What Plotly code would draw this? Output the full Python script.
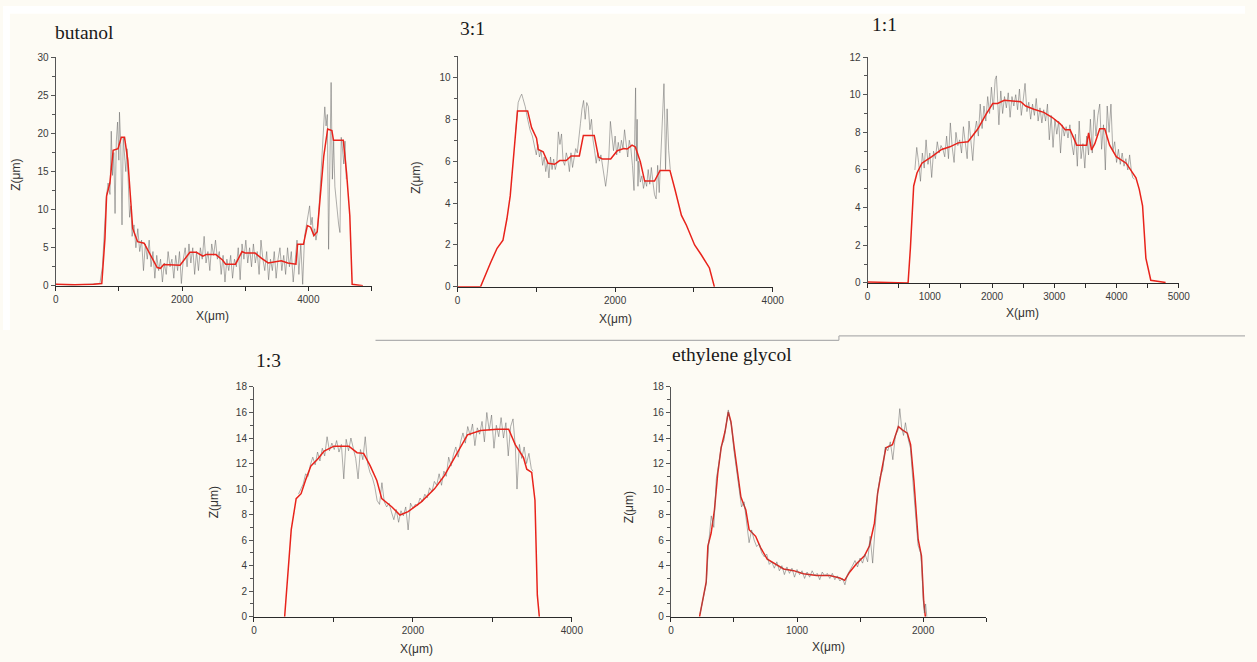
import plotly.graph_objects as go

W, H = 1257, 662

# ---------------- data ----------------
# butanol
but_red_x = [0, 300, 600, 730, 780, 806, 858, 910, 987, 1039, 1090, 1142, 1220, 1297, 1400, 1607, 1660, 1710,
             1969, 2047, 2124, 2227, 2330, 2382, 2537, 2640, 2692, 2847, 2950, 3002, 3157, 3260, 3364, 3571,
             3674, 3803, 3829, 3922, 3984, 4036, 4088, 4140, 4191, 4243, 4305, 4372, 4398, 4553, 4605, 4656,
             4693, 4780, 4863]
but_red_z = [0.2, 0.15, 0.2, 0.3, 6.2, 11.8, 13.5, 17.8, 18.0, 19.5, 19.5, 16.5, 7.5, 5.8, 5.6, 2.4, 2.3, 2.8,
             2.7, 3.6, 4.4, 4.4, 3.9, 4.1, 4.1, 3.4, 2.85, 2.85, 4.5, 4.3, 4.3, 3.6, 3.0, 3.3,
             3.0, 2.85, 5.45, 5.45, 7.9, 7.7, 6.6, 7.1, 12.2, 17.0, 20.6, 20.4, 19.1, 19.1, 14.8, 9.2,
             0.2, 0.1, 0.0]
but_gray_x = [0, 250, 500, 700, 740, 770, 800, 830, 860, 880,
              900, 920, 940, 960, 980, 1000, 1010, 1030, 1050, 1070,
              1090, 1110, 1130, 1150, 1170, 1190, 1210, 1240, 1270, 1300,
              1330, 1360, 1390, 1420, 1450, 1480, 1510, 1540, 1570, 1600,
              1630, 1660, 1690, 1720, 1750, 1780, 1810, 1840, 1870, 1900,
              1930, 1960, 1990, 2020, 2050, 2080, 2110, 2140, 2170, 2200,
              2230, 2260, 2290, 2320, 2350, 2380, 2410, 2440, 2470, 2500,
              2530, 2560, 2590, 2620, 2650, 2680, 2710, 2740, 2770, 2800,
              2830, 2860, 2890, 2920, 2950, 2980, 3010, 3040, 3070, 3100,
              3130, 3160, 3190, 3220, 3250, 3280, 3310, 3340, 3370, 3400,
              3430, 3460, 3490, 3520, 3550, 3580, 3610, 3640, 3670, 3700,
              3730, 3760, 3790, 3820, 3850, 3880, 3910, 3940, 3970, 4000,
              4020, 4040, 4060, 4080, 4100, 4120, 4140, 4160, 4180, 4200,
              4220, 4240, 4260, 4280, 4300, 4320, 4340, 4360, 4380, 4400,
              4420, 4440, 4460, 4480, 4500, 4520, 4540, 4560, 4580, 4600]
but_gray_z = [0.2, 0.1, 0.2, 0.3, 2.5, 7.0, 11.5, 13.5, 12.0, 20.3,
              14.5, 17.5, 9.5, 19.0, 21.5, 16.5, 22.8, 18.5, 8.0, 19.5,
              17.0, 15.0, 18.0, 12.5, 9.0, 10.5, 6.5, 8.0, 5.0, 7.5,
              4.5, 6.0, 2.0, 5.5, 3.5, 6.0, 2.5, 4.5, 1.0, 4.0,
              2.0, 3.5, 0.5, 3.0, 1.5, 4.5, 2.5, 3.5, 1.0, 4.0,
              2.0, 4.5, 0.3, 3.5, 5.0, 2.5, 5.5, 3.0, 5.0, 1.5,
              4.5, 2.0, 5.0, 3.5, 6.5, 3.0, 4.5, 2.0, 5.5, 4.0,
              6.0, 3.5, 4.5, 1.5, 4.0, 0.5, 3.5, 2.0, 4.0, 1.0,
              3.5, 2.5, 5.0, 0.8, 5.5, 3.5, 6.0, 3.0, 5.0, 2.5,
              5.5, 3.0, 4.5, 1.5, 6.0, 3.5, 2.0, 4.5, 0.8, 3.5,
              2.0, 4.5, 1.0, 3.5, 5.0, 2.0, 4.0, 1.5, 5.0, 2.5,
              4.5, 0.5, 3.5, 6.0, 1.5, 5.5, 0.2, 6.5, 8.0, 9.5,
              10.5, 8.0, 9.0, 6.5, 7.5, 6.0, 7.0, 9.0, 12.0, 15.0,
              18.0, 20.5, 23.5, 21.0, 22.5, 4.8, 20.0, 26.7, 14.0, 19.0,
              13.0, 11.0, 9.5, 8.0, 7.0, 19.5, 18.0, 16.0, 19.0, 14.0]

# 3:1
r31_red_x = [0, 150, 292, 418, 502, 577, 627, 669, 711, 761, 890, 940, 1003, 1024, 1087, 1150, 1233, 1296,
             1379, 1442, 1546, 1597, 1735, 1789, 1840, 1944, 2027, 2111, 2153, 2215, 2257, 2320, 2375, 2500,
             2571, 2696, 2759, 2842, 2905, 3009, 3093, 3197, 3260]
r31_red_z = [0, 0, 0, 1.14, 1.84, 2.23, 3.25, 4.34, 6.2, 8.4, 8.4, 7.6, 7.1, 6.56, 6.45, 5.9, 5.85, 6.03,
             6.03, 6.25, 6.25, 7.23, 7.23, 6.2, 6.1, 6.1, 6.5, 6.6, 6.58, 6.77, 6.68, 5.98, 5.05, 5.05,
             5.56, 5.56, 4.66, 3.41, 2.94, 2.0, 1.53, 0.9, 0.0]
r31_gray_x = [740, 770, 800, 815, 830, 860, 890, 920, 950, 980,
              1000, 1020, 1040, 1060, 1080, 1100, 1120, 1140, 1160, 1180,
              1200, 1220, 1240, 1260, 1280, 1300, 1320, 1340, 1360, 1380,
              1400, 1420, 1440, 1460, 1480, 1500, 1520, 1540, 1560, 1580,
              1600, 1620, 1640, 1660, 1680, 1700, 1720, 1740, 1760, 1780,
              1800, 1820, 1840, 1860, 1880, 1900, 1920, 1940, 1960, 1980,
              2000, 2020, 2040, 2060, 2080, 2100, 2120, 2140, 2160, 2180,
              2200, 2220, 2240, 2250, 2260, 2270, 2280, 2290, 2300, 2320,
              2340, 2360, 2380, 2400, 2420, 2440, 2460, 2480, 2500, 2520,
              2540, 2560, 2580, 2600, 2620, 2630, 2640, 2660, 2680, 2700]
r31_gray_z = [7.5, 8.8, 9.1, 9.2, 9.0, 8.6, 8.0, 7.5, 7.2, 6.6,
              6.3, 6.8, 6.2, 6.5, 5.8, 6.2, 5.5, 6.0, 5.2, 6.2,
              5.6, 6.1, 5.6, 5.9, 7.4, 6.8, 7.3, 6.0, 5.8, 6.4,
              6.1, 5.5, 6.4, 5.7, 6.2, 6.6, 6.4, 7.0, 7.8, 8.5,
              8.9, 8.0, 8.8, 8.6, 7.5, 8.0, 7.0, 6.5, 5.9, 6.4,
              6.0, 6.3, 5.8, 5.2, 4.8, 5.4, 6.2, 7.9, 7.0, 6.5,
              7.2, 6.3, 6.9, 6.4, 7.0, 6.6, 7.5, 6.8, 6.2, 7.0,
              6.6, 5.8, 4.6, 7.5, 9.5, 6.0, 8.0, 4.8, 6.0, 5.0,
              5.3, 4.7, 5.1, 4.8, 5.6, 4.9, 5.7, 5.0, 4.4, 4.2,
              5.8, 4.5, 6.5, 8.5, 9.7, 8.0, 5.6, 8.5, 6.5, 5.6]

# 1:1
r11_red_x = [0, 300, 651, 688, 741, 794, 873, 1032, 1190, 1323, 1455, 1614, 1773, 1905, 2011, 2090, 2196,
             2460, 2540, 2672, 2831, 2963, 3095, 3175, 3254, 3360, 3519, 3551, 3598, 3651, 3730, 3810, 3889,
             3995, 4154, 4312, 4365, 4418, 4471, 4550, 4788]
r11_red_z = [0.05, 0.02, 0, 1.84, 5.15, 5.84, 6.36, 6.71, 7.09, 7.23, 7.44, 7.5, 8.19, 8.97, 9.53, 9.53, 9.7,
             9.63, 9.4, 9.23, 9.06, 8.8, 8.45, 8.14, 8.14, 7.32, 7.32, 7.97, 7.06, 7.4, 8.19, 8.19, 7.32,
             6.71, 6.36, 5.58, 4.97, 4.1, 1.32, 0.14, 0.02]
r11_gray_x = [760, 790, 820, 850, 880, 910, 940, 970, 1000, 1030,
              1060, 1090, 1120, 1150, 1180, 1210, 1240, 1270, 1300, 1330,
              1360, 1390, 1420, 1450, 1480, 1510, 1540, 1570, 1600, 1630,
              1660, 1690, 1720, 1750, 1780, 1810, 1840, 1870, 1900, 1930,
              1960, 1990, 2020, 2050, 2070, 2090, 2110, 2140, 2170, 2200,
              2230, 2260, 2290, 2320, 2350, 2380, 2410, 2440, 2470, 2500,
              2530, 2560, 2590, 2620, 2650, 2680, 2710, 2740, 2770, 2800,
              2830, 2860, 2890, 2920, 2950, 2980, 3010, 3040, 3070, 3100,
              3130, 3160, 3190, 3220, 3250, 3280, 3310, 3340, 3370, 3400,
              3430, 3460, 3490, 3520, 3550, 3580, 3610, 3640, 3670, 3700,
              3730, 3760, 3790, 3820, 3850, 3880, 3910, 3940, 3970, 4000,
              4030, 4060, 4090, 4120, 4150, 4180, 4210, 4240, 4260, 4290]
r11_gray_z = [6.0, 7.2, 6.4, 5.4, 6.9, 6.1, 7.6, 6.3, 6.9, 5.6,
              7.0, 6.6, 7.5, 6.9, 7.3, 7.1, 6.7, 7.8, 6.6, 8.5,
              7.2, 6.4, 8.0, 7.3, 7.6, 6.9, 8.3, 7.5, 6.6, 8.6,
              7.4, 6.5, 8.0, 8.6, 7.8, 9.5, 8.2, 9.4, 8.6, 9.9,
              9.0, 10.4, 9.2, 10.8, 11.0, 9.6, 8.4, 10.2, 9.0, 9.9,
              9.3, 10.1, 8.8, 9.9, 9.4, 10.0, 9.2, 10.3, 8.9, 9.7,
              10.6, 9.1, 9.6, 8.7, 9.5, 8.9, 9.8, 8.6, 9.3, 8.5,
              9.2, 8.6, 9.5, 7.6, 8.9, 7.2, 8.7, 7.9, 8.6, 6.9,
              8.4, 7.8, 8.3, 7.7, 8.4, 7.4, 6.8, 7.9, 6.2, 8.6,
              6.6, 7.4, 6.1, 7.8, 6.8, 8.7, 6.9, 9.2, 7.8, 8.9,
              9.5, 7.1, 8.4, 6.0, 9.4, 8.0, 9.5, 7.0, 7.5, 6.4,
              7.1, 6.3, 6.9, 6.2, 6.6, 6.0, 6.8, 5.9, 5.6, 5.5]

# 1:3
r13_red_x = [386, 427, 469, 531, 593, 655, 717, 800, 883, 1007, 1194, 1297, 1380, 1463, 1546, 1608, 1733,
             1837, 1940, 2106, 2272, 2396, 2541, 2687, 2852, 3060, 3205, 3288, 3392, 3433, 3495, 3536, 3566,
             3591]
r13_red_z = [0, 3.74, 6.82, 9.25, 9.64, 10.8, 11.82, 12.33, 12.98, 13.36, 13.36, 12.85, 12.8, 11.82, 10.67,
             9.25, 8.62, 7.97, 8.23, 9.0, 10.02, 11.05, 12.59, 14.25, 14.59, 14.69, 14.69, 13.48, 12.46,
             11.56, 11.3, 9.13, 1.69, 0]
r13_gray_x = [560, 590, 620, 650, 680, 710, 740, 770, 800, 830,
              860, 890, 920, 950, 980, 1010, 1040, 1070, 1100, 1130,
              1160, 1190, 1220, 1250, 1280, 1310, 1340, 1370, 1400, 1430,
              1460, 1490, 1520, 1550, 1580, 1610, 1640, 1670, 1700, 1730,
              1760, 1790, 1820, 1850, 1880, 1910, 1940, 1970, 2000, 2030,
              2060, 2090, 2120, 2150, 2180, 2210, 2240, 2270, 2300, 2330,
              2360, 2390, 2420, 2450, 2480, 2510, 2540, 2570, 2600, 2630,
              2660, 2690, 2720, 2750, 2780, 2810, 2840, 2870, 2900, 2930,
              2960, 2990, 3020, 3050, 3080, 3110, 3140, 3170, 3200, 3230,
              3260, 3290, 3310, 3340, 3370, 3400, 3430, 3460, 3490, 3510]
r13_gray_z = [9.6, 10.0, 10.4, 11.2, 11.0, 11.9, 12.5, 11.9, 12.9, 12.2,
              13.2, 12.6, 14.1, 13.0, 13.6, 13.1, 13.8, 12.9, 13.5, 10.8,
              13.9, 13.0, 14.0, 13.2, 12.4, 10.8, 13.1, 12.3, 14.1, 12.0,
              11.3, 10.9, 10.2, 9.1, 8.8, 10.5, 9.0, 8.6, 8.9, 8.2,
              7.6, 8.4, 7.4, 8.3, 7.9, 8.6, 6.8, 8.9, 8.5, 8.8,
              8.7, 9.3, 9.0, 9.6, 9.3, 10.1, 9.8, 10.6, 10.3, 11.2,
              10.3, 11.4, 11.0, 12.5, 11.8, 12.7, 13.3, 12.5, 13.7, 14.4,
              13.6, 14.9, 14.2, 15.1, 13.4, 14.8, 14.3, 15.3, 13.7, 16.0,
              14.6, 15.8, 13.2, 15.0, 14.1, 15.6, 14.0, 15.2, 12.6, 14.9,
              15.5, 13.2, 10.0, 13.5, 12.4, 13.3, 12.0, 12.8, 11.6, 11.4]

# ethylene glycol
eg_red_x = [227, 254, 280, 293, 319, 345, 371, 398, 429, 455, 476, 502, 528, 555, 594, 620, 672, 711, 764,
            829, 894, 973, 1051, 1155, 1260, 1339, 1378, 1417, 1470, 1535, 1574, 1614, 1639, 1666, 1705,
            1757, 1804, 1835, 1875, 1901, 1927, 1961, 1987, 2005, 2018]
eg_red_z = [0, 1.43, 2.72, 5.54, 6.56, 8.36, 11.18, 13.23, 14.51, 16.05, 15.28, 13.23, 11.18, 9.38, 8.36,
            6.82, 6.3, 5.41, 4.51, 4.13, 3.74, 3.61, 3.36, 3.23, 3.23, 3.03, 2.85, 3.49, 4.13, 4.77, 5.54,
            7.33, 9.64, 11.18, 13.23, 13.48, 14.9, 14.64, 14.38, 13.48, 10.67, 6.05, 4.77, 1.18, 0]
eg_gray_x = [230, 255, 280, 300, 320, 340, 360, 380, 400, 420,
             440, 455, 465, 480, 500, 520, 540, 560, 580, 600,
             620, 640, 660, 680, 700, 720, 740, 760, 780, 800,
             820, 840, 860, 880, 900, 920, 940, 960, 980, 1000,
             1020, 1040, 1060, 1080, 1100, 1120, 1140, 1160, 1180, 1200,
             1220, 1240, 1260, 1280, 1300, 1320, 1340, 1360, 1380, 1400,
             1420, 1440, 1460, 1480, 1500, 1520, 1540, 1560, 1580, 1600,
             1620, 1640, 1660, 1680, 1700, 1720, 1740, 1760, 1780, 1800,
             1815, 1830, 1845, 1860, 1880, 1900, 1920, 1940, 1960, 1980,
             1990, 2000, 2010, 2020, 2030]
eg_gray_z = [0.2, 1.5, 2.6, 5.8, 7.9, 7.0, 10.8, 12.0, 13.4, 13.8,
             15.2, 16.2, 15.6, 15.0, 13.0, 11.4, 10.0, 8.6, 9.0, 7.6,
             5.8, 6.8, 6.0, 5.5, 5.7, 5.0, 4.7, 4.9, 4.1, 4.3,
             3.8, 4.3, 3.6, 4.0, 3.3, 3.9, 3.4, 3.8, 3.1, 3.7,
             3.3, 3.6, 3.0, 3.5, 3.1, 3.6, 3.2, 3.4, 2.9, 3.5,
             3.2, 3.4, 3.0, 3.4, 2.9, 3.2, 2.8, 3.0, 2.5, 3.3,
             3.6, 4.0, 4.4, 3.9, 4.6, 4.2, 4.9, 4.3, 6.3, 4.2,
             7.0, 9.8, 11.0, 11.5, 13.3, 13.0, 13.7, 12.3, 14.2, 14.6,
             16.3, 14.8, 14.2, 15.2, 14.0, 13.2, 10.5, 7.8, 5.6, 5.0,
             3.8, 1.5, 0.3, 1.0, 0.0]

panel_titles = ["butanol", "3:1", "1:1", "1:3", "ethylene glycol"]

# ---------------- layout helpers ----------------
def px_x(x):
    return x / W

def px_y(y):
    return 1 - y / H

RED = "#e8231b"
GRAY = "rgba(100,100,100,0.65)"

panels = [
    # (red_x, red_z, gray_x, gray_z, left, right, top, bottom, xrange, yrange, xticks, xminor, yticks, yminor, gray_on_top)
    (but_red_x, but_red_z, but_gray_x, but_gray_z, 53.3, 373, 52.3, 285, [0, 5000], [0, 30],
     [0, 2000, 4000], 1000, [0, 5, 10, 15, 20, 25, 30], 2.5, False),
    (r31_red_x, r31_red_z, r31_gray_x, r31_gray_z, 460, 779, 51.4, 286, [0, 4000], [0, 11],
     [0, 2000, 4000], 1000, [0, 2, 4, 6, 8, 10], 1, False),
    (r11_red_x, r11_red_z, r11_gray_x, r11_gray_z, 875, 1190, 52, 282, [0, 5000], [0, 12],
     [0, 1000, 2000, 3000, 4000, 5000], 500, [0, 2, 4, 6, 8, 10, 12], 1, False),
    (r13_red_x, r13_red_z, r13_gray_x, r13_gray_z, 254, 575.7, 388, 622, [0, 4000], [0, 18],
     [0, 2000, 4000], 1000, [0, 2, 4, 6, 8, 10, 12, 14, 16, 18], 1, False),
    (eg_red_x, eg_red_z, eg_gray_x, eg_gray_z, 676, 995, 388, 622, [0, 2500], [0, 18],
     [0, 1000, 2000], 500, [0, 2, 4, 6, 8, 10, 12, 14, 16, 18], 1, True),
]

fig = go.Figure()
layout = dict(
    width=W, height=H, margin=dict(l=0, r=0, t=0, b=0),
    paper_bgcolor="#fdfbf4", plot_bgcolor="rgba(0,0,0,0)",
    showlegend=False, annotations=[], shapes=[],
)

tickfont = dict(family="Liberation Sans, Arial, sans-serif", size=10, color="#3a3a3a")

for i, (rx, rz, gx, gz, l, r, t, b, xr, yr, xt, xm, yt, ym, gray_top) in enumerate(panels):
    n = "" if i == 0 else str(i + 1)
    xa, ya = "x" + n, "y" + n
    gray_tr = go.Scatter(x=gx, y=gz, mode="lines", xaxis=xa, yaxis=ya,
                         line=dict(color=GRAY, width=0.8), hoverinfo="skip")
    red_tr = go.Scatter(x=rx, y=rz, mode="lines", xaxis=xa, yaxis=ya,
                        line=dict(color=RED, width=1.5), hoverinfo="skip")
    if gray_top:
        fig.add_trace(red_tr)
        fig.add_trace(gray_tr)
    else:
        fig.add_trace(gray_tr)
        fig.add_trace(red_tr)
    common = dict(showgrid=False, zeroline=False, showline=True, linewidth=1,
                  ticks="outside", ticklen=4, tickwidth=1, tickfont=tickfont)
    layout["xaxis" + n] = dict(common, domain=[px_x(l), px_x(r)], range=xr, anchor=ya,
                               linecolor="#2a2a2a", tickcolor="#2a2a2a",
                               tickmode="array", tickvals=xt, ticktext=[str(v) for v in xt],
                               minor=dict(dtick=xm, tick0=0, ticklen=4, tickcolor="#2a2a2a", ticks="outside"))
    layout["yaxis" + n] = dict(common, domain=[px_y(b), px_y(t)], range=yr, anchor=xa,
                               linecolor="#555555", tickcolor="#555555",
                               tickmode="array", tickvals=yt, ticktext=[str(v) for v in yt],
                               minor=dict(dtick=ym, tick0=0, ticklen=2.5, tickcolor="#555555", ticks="outside"))

# panel titles
title_pos = [(51, 27), (460, 23), (877, 19), (254, 361), (675, 355)]
for txt, (x, y) in zip(panel_titles, title_pos):
    layout["annotations"].append(dict(
        text=txt, x=px_x(x), y=px_y(y), xref="paper", yref="paper", xanchor="left", yanchor="middle",
        showarrow=False, font=dict(family="Liberation Serif, Times New Roman, serif", size=19.5, color="#1a1a1a")))

# axis titles
afont = dict(family="Liberation Sans, Arial, sans-serif", size=12, color="#333333")
for (x, y) in [(212, 316), (620, 319), (1032, 313), (418, 655), (835, 653)]:
    layout["annotations"].append(dict(text="X(μm)", x=px_x(x), y=px_y(y), xref="paper", yref="paper",
                                      xanchor="center", yanchor="middle", showarrow=False, font=afont))
for (x, y) in [(13, 172), (418, 175), (213, 505), (633, 510)]:
    layout["annotations"].append(dict(text="Z(μm)", x=px_x(x), y=px_y(y), xref="paper", yref="paper",
                                      xanchor="center", yanchor="middle", showarrow=False, font=afont,
                                      textangle=-90))

# page decorations: white top/left margins and separator lines
layout["shapes"] += [
    dict(type="rect", xref="paper", yref="paper", x0=0, x1=1, y0=px_y(8), y1=1,
         fillcolor="white", line=dict(width=0), layer="below"),
    dict(type="rect", xref="paper", yref="paper", x0=0, x1=px_x(7), y0=px_y(330), y1=1,
         fillcolor="white", line=dict(width=0), layer="below"),
    dict(type="line", xref="paper", yref="paper", x0=px_x(377), x1=px_x(846), y0=px_y(340.5), y1=px_y(340.5),
         line=dict(color="#b0b0b0", width=1.2)),
    dict(type="line", xref="paper", yref="paper", x0=px_x(846), x1=px_x(846), y0=px_y(340.5), y1=px_y(336),
         line=dict(color="#b0b0b0", width=1.2)),
    dict(type="line", xref="paper", yref="paper", x0=px_x(846), x1=1, y0=px_y(336), y1=px_y(336),
         line=dict(color="#b0b0b0", width=1.2)),
]

fig.update_layout(**layout)
fig.write_html("out.html")
